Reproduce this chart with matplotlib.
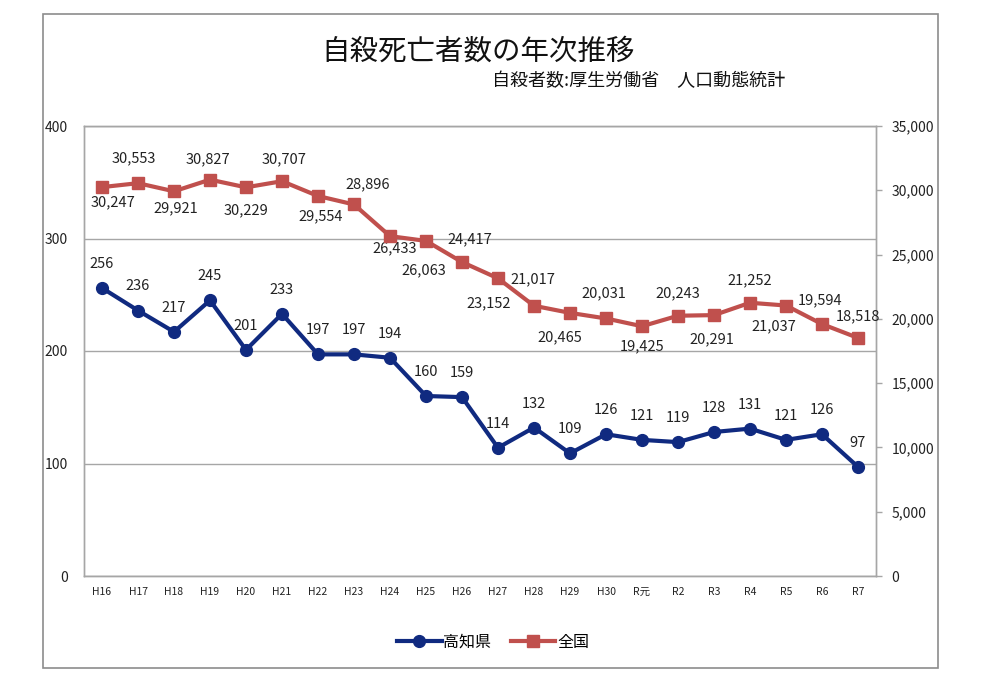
import matplotlib
matplotlib.use("Agg")
import matplotlib.pyplot as plt
from matplotlib.patches import Rectangle

plt.rcParams['font.family'] = ['Noto Sans CJK JP', 'DejaVu Sans']

# ---- data ----
years = ["H16", "H17", "H18", "H19", "H20", "H21", "H22", "H23", "H24", "H25", "H26",
         "H27", "H28", "H29", "H30", "R元", "R2", "R3", "R4", "R5", "R6", "R7"]
kochi = [256, 236, 217, 245, 201, 233, 197, 197, 194, 160, 159,
         114, 132, 109, 126, 121, 119, 128, 131, 121, 126, 97]
national = [30247, 30553, 29921, 30827, 30229, 30707, 29554, 28896, 26433, 26063, 24417,
            23152, 21017, 20465, 20031, 19425, 20243, 20291, 21252, 21037, 19594, 18518]
left_ticks = [0, 100, 200, 300, 400]
right_ticks = [0, 5000, 10000, 15000, 20000, 25000, 30000, 35000]

# label offsets (pixels, dx, dy with dy positive downwards) -- layout only
nat_offsets = [(11, 15), (-4, -25), (2, 17), (-2, -20), (0, 23), (2, -22), (3, 20),
               (14, -20), (5, 12), (-2, 29), (8, -23), (-9, 25), (-1, -26), (-10, 24),
               (-2, -25), (0, 20), (0, -22), (-2, 24), (0, -22), (-12, 21), (-2, -24),
               (0, -22)]

BLUE = "#102A80"
RED = "#C0504D"
GRID = "#A6A6A6"

W, H = 990, 685
fig = plt.figure(figsize=(W / 100, H / 100), dpi=100)

# outer chart border
fig.patches.append(Rectangle((43 / W, 1 - 668 / H), (938 - 43) / W, (668 - 14) / H,
                             transform=fig.transFigure, fill=False,
                             edgecolor="#8C8C8C", linewidth=1.2))

ax = fig.add_axes([84 / W, 1 - 576 / H, (876 - 84) / W, 450 / H])
ax2 = ax.twinx()

x = list(range(len(years)))

ax.set_xlim(-0.5, len(years) - 0.5)
ax.set_ylim(0, 400)
ax.set_yticks(left_ticks)
ax.set_yticklabels([str(t) for t in left_ticks])
ax.yaxis.grid(True, color=GRID, linewidth=1)
ax.set_axisbelow(True)
ax.tick_params(axis="y", length=0, pad=11.5, labelsize=10, colors="#222222")
ax.set_xticks(x)
ax.set_xticklabels(years)
ax.tick_params(axis="x", length=0, pad=8, labelsize=7.5, colors="#222222")

ax2.set_ylim(0, 35000)
ax2.set_yticks(right_ticks)
ax2.set_yticklabels([f"{t:,}" for t in right_ticks])
ax2.tick_params(axis="y", length=4, width=1, color=GRID, pad=7, labelsize=10,
                labelcolor="#222222", direction="out")

for a in (ax, ax2):
    for s in a.spines.values():
        s.set_color(GRID)
        s.set_linewidth(1)

l1, = ax.plot(x, kochi, color=BLUE, linewidth=3, marker="o", markersize=8.5,
              label="高知県", zorder=4)
l2, = ax2.plot(x, national, color=RED, linewidth=3, marker="s", markersize=9,
               label="全国", zorder=4)

for i, v in enumerate(kochi):
    ax.annotate(str(v), (i, v), xytext=(0, 24 * 0.72), textcoords="offset points",
                ha="center", va="center", fontsize=10.5, color="#222222")
for i, v in enumerate(national):
    dx, dy = nat_offsets[i]
    ax2.annotate(f"{v:,}", (i, v), xytext=(dx * 0.72, -dy * 0.72), textcoords="offset points",
                 ha="center", va="center", fontsize=10.5, color="#222222")

fig.text(478 / W, 1 - 52 / H, "自殺死亡者数の年次推移", ha="center", va="center",
         fontsize=20.5, color="#111111")
fig.text(785 / W, 1 - 81 / H, "自殺者数:厚生労働省　人口動態統計", ha="right", va="center",
         fontsize=13, color="#111111")

fig.legend(handles=[l1, l2], loc="center", bbox_to_anchor=(493 / W, 1 - 642 / H),
           ncol=2, frameon=False, fontsize=11.5, handlelength=2.8, handletextpad=0.1,
           columnspacing=1.2)

fig.savefig("out.png", dpi=100, facecolor="white")
